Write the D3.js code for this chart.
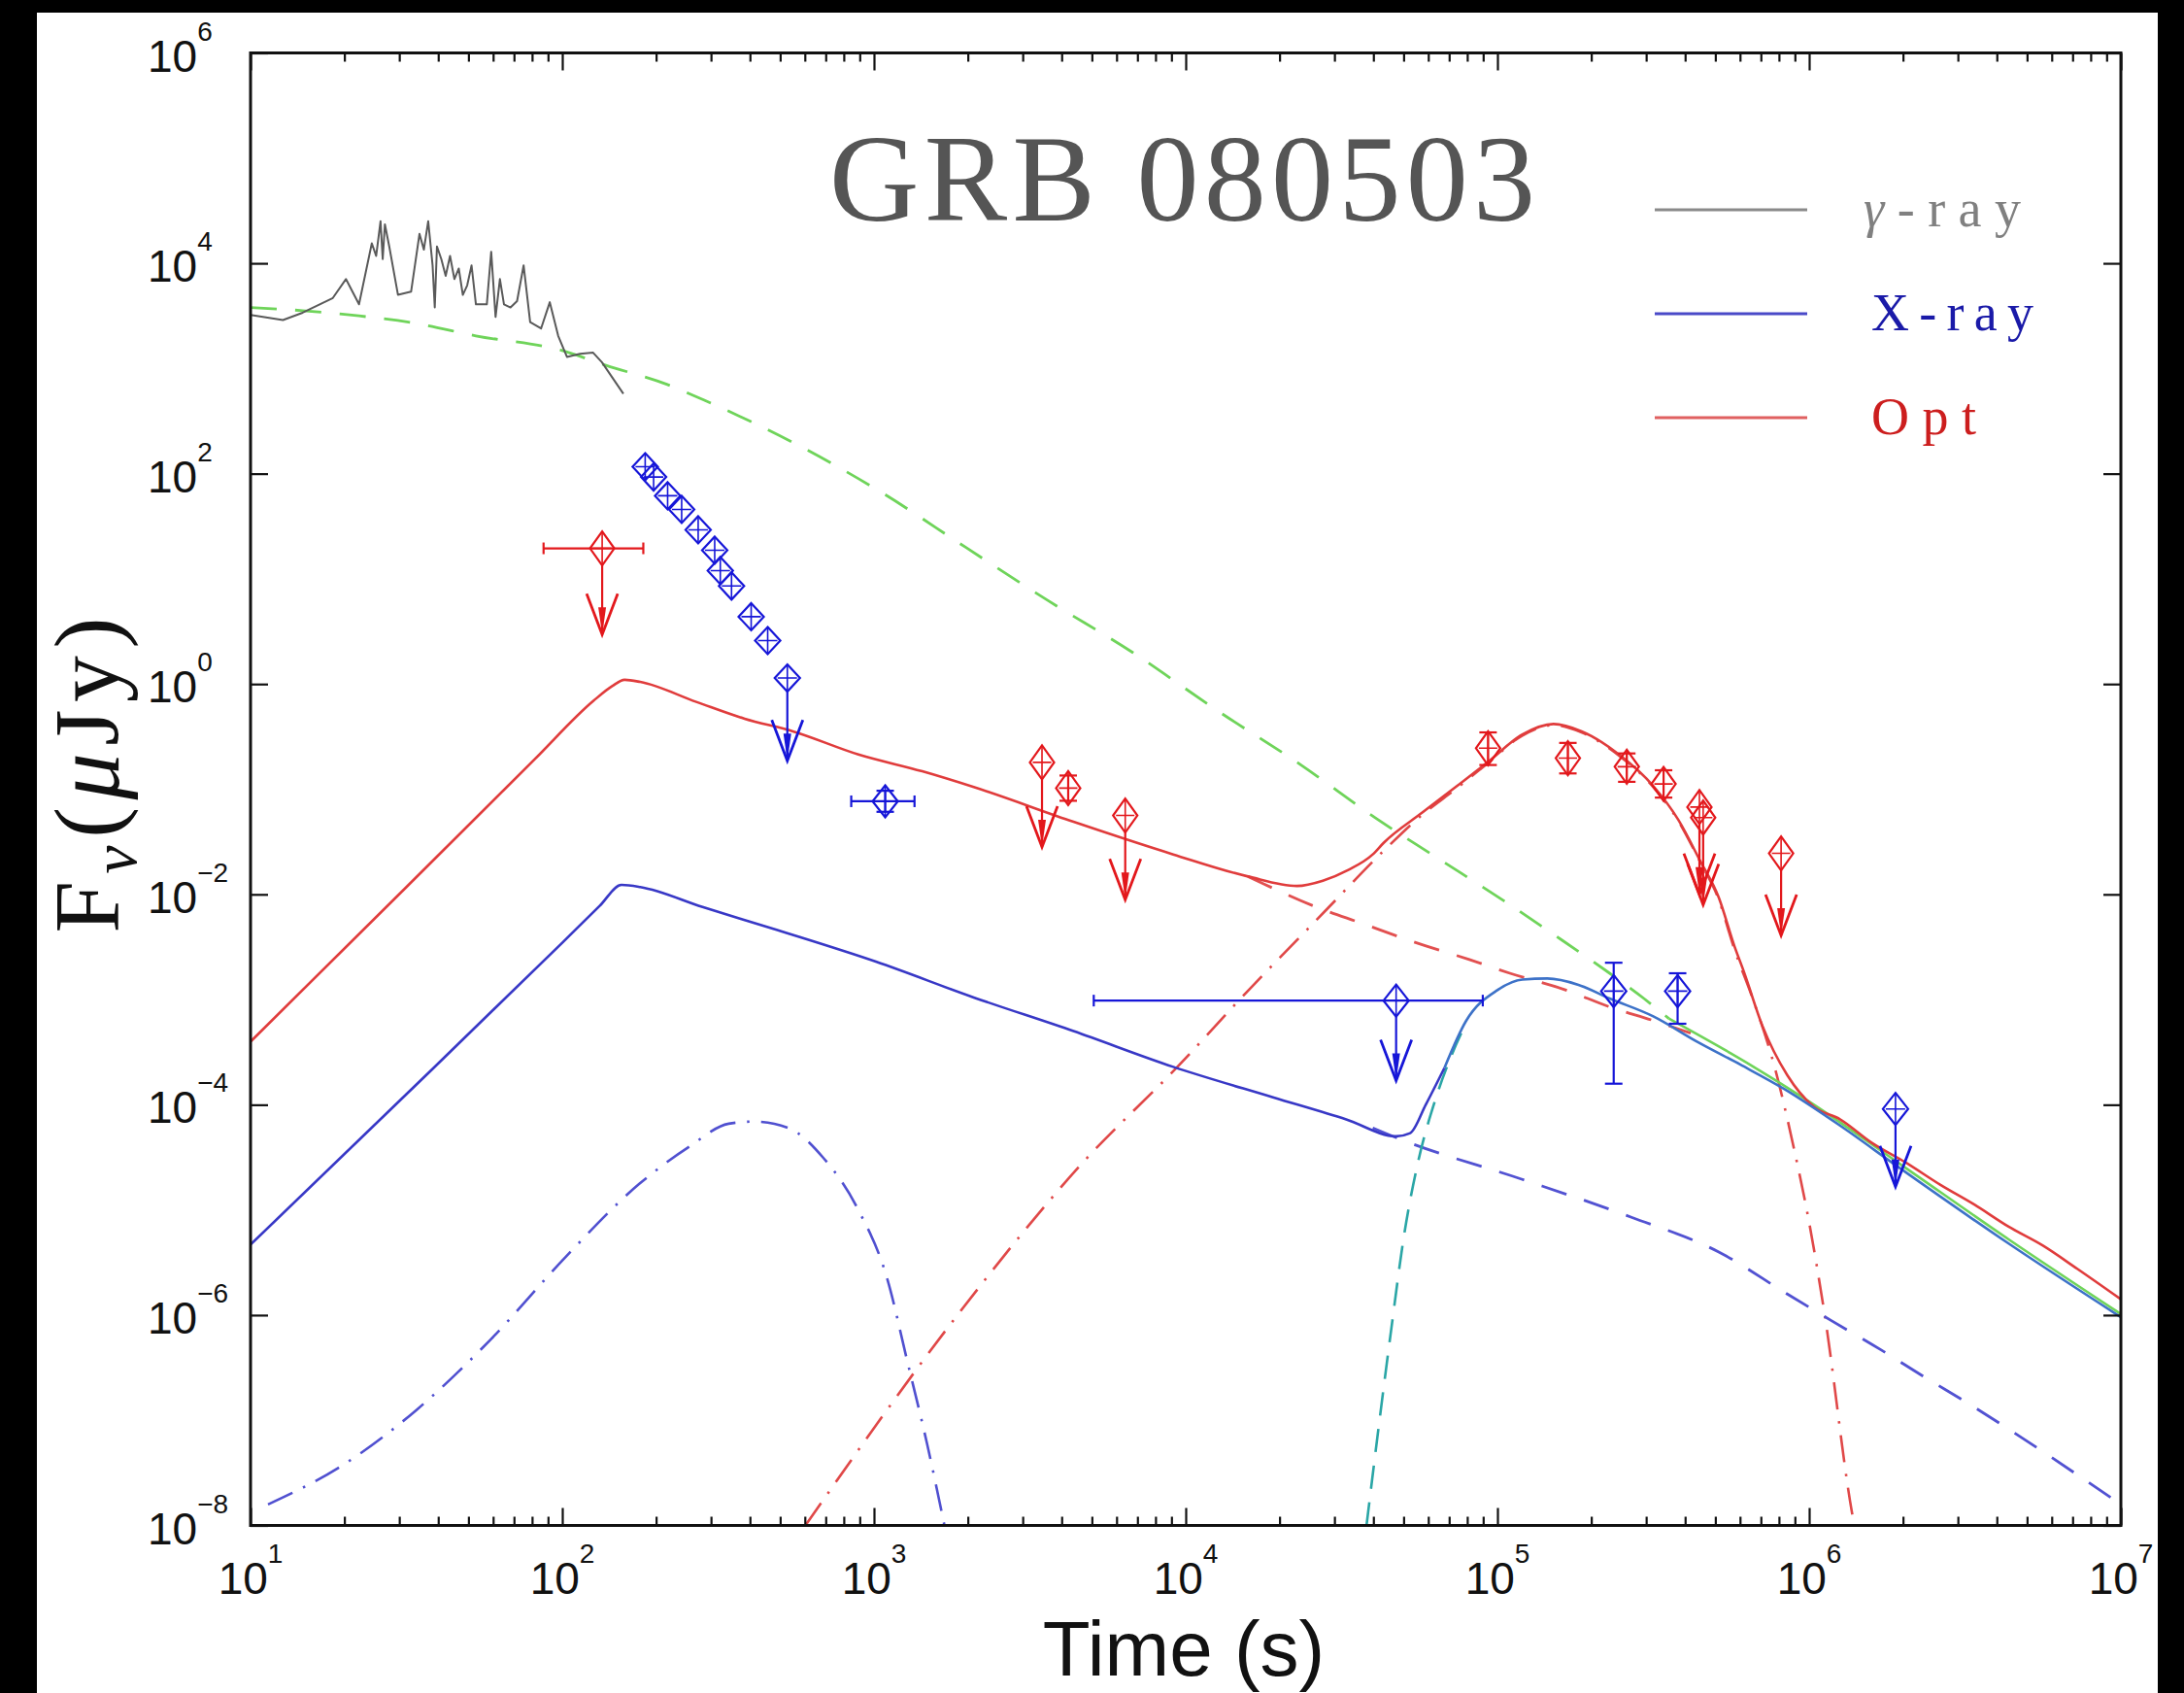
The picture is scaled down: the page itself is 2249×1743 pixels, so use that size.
<!DOCTYPE html>
<html><head><meta charset="utf-8">
<script src="https://cdn.jsdelivr.net/npm/d3@7"></script>
<style>html,body{margin:0;padding:0;background:#000;}svg{display:block}</style>
</head><body>
<svg id="chart" width="2249" height="1743"></svg>
<script>
// ---------- DATA (log10 time [s], log10 flux [μJy]) ----------
const gammaLogT = [1.0,1.104,1.167,1.264,1.306,1.348,1.389,1.403,1.417,1.424,1.431,1.445,1.473,1.515,1.542,1.556,1.570,1.584,1.591,1.598,1.612,1.626,1.640,1.654,1.668,1.681,1.695,1.709,1.723,1.737,1.758,1.772,1.786,1.800,1.813,1.834,1.855,1.876,1.897,1.932,1.960,1.987,2.015,2.057,2.099,2.127,2.196];
const gammaLogF = [3.51,3.46,3.53,3.67,3.85,3.61,4.19,4.07,4.40,4.04,4.37,4.16,3.70,3.73,4.28,4.13,4.40,3.98,3.58,4.16,4.04,3.88,4.07,3.85,3.95,3.70,3.79,3.98,3.61,3.61,3.61,4.11,3.49,3.85,3.61,3.58,3.64,3.98,3.44,3.38,3.63,3.31,3.11,3.14,3.15,3.06,2.76];

const greenLogT = [1.0,1.167,1.348,1.528,1.723,2.0,2.14,2.335,2.454,2.757,3.025,3.294,3.56,3.83,4.10,4.37,4.617,4.80,5.025,5.18,5.36,5.47,5.55,5.8,6.0,6.28,6.64,7.0];
const greenLogF = [3.58,3.55,3.50,3.43,3.31,3.17,3.03,2.85,2.70,2.27,1.82,1.30,0.79,0.30,-0.25,-0.77,-1.29,-1.64,-2.07,-2.38,-2.75,-2.99,-3.18,-3.60,-3.97,-4.54,-5.28,-5.99];

const optLogT = [1.0,1.5,1.91,2.10,2.16,2.20,2.25,2.43,2.585,2.74,2.95,3.155,3.32,3.64,3.96,4.20,4.357,4.44,4.52,4.60,4.635,4.76,4.87,4.97,5.08,5.18,5.27,5.39,5.50,5.58,5.65,5.71,5.76,5.79,5.85,5.93,6.015,6.10,6.20,6.31,6.42,6.53,6.64,6.75,6.86,7.0];
const optLogF = [-3.40,-1.93,-0.72,-0.16,-0.02,0.04,0.02,-0.17,-0.33,-0.45,-0.67,-0.83,-0.98,-1.31,-1.62,-1.83,-1.92,-1.87,-1.77,-1.62,-1.51,-1.22,-0.97,-0.74,-0.48,-0.38,-0.45,-0.67,-0.97,-1.29,-1.68,-2.03,-2.49,-2.73,-3.25,-3.72,-4.02,-4.14,-4.36,-4.55,-4.76,-4.95,-5.16,-5.34,-5.56,-5.85];

const optFsLogT = [4.20,4.25,4.41,4.57,4.73,4.91,5.04,5.22,5.36,5.50,5.62];
const optFsLogF = [-1.83,-1.90,-2.11,-2.28,-2.45,-2.62,-2.75,-2.91,-3.07,-3.20,-3.32];

const optRsLogT = [2.78,3.273,3.67,3.98,4.17,4.45,4.63,4.76,4.87,4.97,5.08,5.18,5.27,5.39,5.50,5.58,5.65,5.71,5.76,5.82,5.89,5.95,6.0,6.05,6.137,6.145];
const optRsLogF = [-8.0,-5.98,-4.55,-3.62,-3.01,-2.15,-1.60,-1.24,-0.99,-0.75,-0.49,-0.39,-0.46,-0.68,-0.98,-1.30,-1.69,-2.05,-2.52,-3.0,-3.65,-4.4,-5.12,-6.0,-7.87,-8.0];

const xrayLogT = [1.0,1.5,2.0,2.12,2.19,2.25,2.45,2.69,3.006,3.32,3.64,3.96,4.28,4.515,4.675,4.72,4.77,4.83,4.90,5.0,5.08,5.16,5.26,5.36,5.50,5.64,5.78,5.92,6.1,6.28,6.64,7.0];
const xrayLogF = [-5.33,-3.90,-2.46,-2.11,-1.91,-1.93,-2.12,-2.34,-2.64,-2.98,-3.30,-3.64,-3.93,-4.14,-4.30,-4.27,-4.00,-3.65,-3.20,-2.91,-2.81,-2.80,-2.86,-2.99,-3.16,-3.40,-3.62,-3.85,-4.20,-4.58,-5.32,-6.02];

const xrayFsLogT = [4.60,4.69,5.08,5.43,5.71,5.93,6.07,6.23,6.365,6.51,7.0];
const xrayFsLogF = [-4.22,-4.33,-4.71,-5.07,-5.40,-5.80,-6.05,-6.33,-6.58,-6.84,-7.80];

const xrayRsLogT = [1.056,1.294,1.533,1.771,2.01,2.248,2.407,2.534,2.614,2.725,2.836,2.948,3.043,3.107,3.17,3.226];
const xrayRsLogF = [-7.80,-7.43,-6.90,-6.23,-5.45,-4.75,-4.40,-4.18,-4.16,-4.22,-4.50,-4.99,-5.66,-6.44,-7.22,-8.0];

const cyanLogT = [4.58,4.62,4.66,4.70,4.745,4.80,4.85,4.90];
const cyanLogF = [-8.0,-7.04,-6.12,-5.25,-4.55,-3.96,-3.55,-3.22];

// optical observations
const redLogT  = [2.128,3.539,3.623,3.806,4.97,5.226,5.415,5.533,5.648,5.66,5.91];
const redLogF  = [1.29,-0.745,-0.99,-1.25,-0.61,-0.705,-0.786,-0.95,-1.17,-1.27,-1.61];
const redErrLo = [null,null,-1.11,null,-0.77,-0.85,-0.93,-1.08,null,null,null];
const redErrHi = [null,null,-0.87,null,-0.46,-0.56,-0.66,-0.82,null,null,null];
const redTLo   = [1.94,null,null,null,null,null,null,null,null,null,null];
const redTHi   = [2.26,null,null,null,null,null,null,null,null,null,null];
const redLimit = [0.47,-1.55,null,-2.05,null,null,null,null,-2.0,-2.1,-2.39];

// X-ray observations
const blueLogT  = [2.266,2.293,2.338,2.383,2.436,2.489,2.507,2.543,2.606,2.659,2.722,3.036,4.675,5.373,5.578,6.277];
const blueLogF  = [2.066,1.968,1.790,1.660,1.466,1.272,1.078,0.932,0.640,0.413,0.057,-1.115,-3.01,-2.92,-2.92,-4.04];
const blueErrLo = [null,null,null,null,null,null,null,null,null,null,null,-1.215,null,-3.80,-3.23,null];
const blueErrHi = [null,null,null,null,null,null,null,null,null,null,null,-1.015,null,-2.65,-2.75,null];
const blueTLo   = [null,null,null,null,null,null,null,null,null,null,null,2.927,3.705,null,null,null];
const blueTHi   = [null,null,null,null,null,null,null,null,null,null,null,3.13,4.953,null,null,null];
const blueLimit = [null,null,null,null,null,null,null,null,null,null,-0.73,null,-3.77,null,null,-4.78];

const xTickExp = [1,2,3,4,5,6,7];
const yTickExp = [-8,-6,-4,-2,0,2,4,6];
const legendLabels = ["γ-ray","X-ray","Opt"];
const titleText = "GRB 080503";

// ---------- CHART ----------
const svg = d3.select("#chart");
const plot = {left:258, right:2184, top:54.5, bottom:1570.5};
const P = v => Math.pow(10, v);
const x = d3.scaleLog().domain([1e1,1e7]).range([plot.left, plot.right]);
const y = d3.scaleLog().domain([1e-8,1e6]).range([plot.bottom, plot.top]);
const X = lt => x(P(lt)), Y = lf => y(P(lf));

svg.append("rect").attr("width",2249).attr("height",1743).attr("fill","#000");
svg.append("rect").attr("x",38).attr("y",13).attr("width",2184).attr("height",1730).attr("fill","#fff");

svg.append("defs").append("clipPath").attr("id","clip").append("rect")
  .attr("x",plot.left).attr("y",plot.top).attr("width",plot.right-plot.left).attr("height",plot.bottom-plot.top);

const lines = svg.append("g").attr("clip-path","url(#clip)").attr("fill","none").attr("stroke-linejoin","round");
const smooth = d3.line().x(d=>X(d[0])).y(d=>Y(d[1])).curve(d3.curveMonotoneX);
const straight = d3.line().x(d=>X(d[0])).y(d=>Y(d[1]));
function draw(ts, fs, gen, color, width, dash, filter){
  let pts = d3.zip(ts, fs);
  if (filter) pts = pts.filter(filter);
  const p = lines.append("path").attr("d", gen(pts)).attr("stroke", color).attr("stroke-width", width);
  if (dash) p.attr("stroke-dasharray", dash);
  return p;
}
const dashDot = "28,12,2.5,12";
// dashed/dash-dot components
draw(xrayRsLogT, xrayRsLogF, smooth, "#5050d0", 2.6, dashDot);
draw(optRsLogT, optRsLogF, smooth, "#e04848", 2.6, dashDot);
draw(xrayFsLogT, xrayFsLogF, smooth, "#5252d2", 2.8, "27,19");
draw(optFsLogT, optFsLogF, smooth, "#e25050", 2.8, "27,19");
draw(cyanLogT, cyanLogF, smooth, "#2aa6a6", 2.6, "24,14");
draw(greenLogT, greenLogF, smooth, "#6fd45a", 2.8, "27,19", d=>d[0]<=5.56);
draw(greenLogT, greenLogF, smooth, "#6fd45a", 2.6, null, d=>d[0]>=5.55);
// solid models
draw(optLogT, optLogF, smooth, "#e03c3c", 2.6, null);
draw(xrayLogT, xrayLogF, smooth, "#3838c6", 2.6, null, d=>d[0]<=4.83);
draw(xrayLogT, xrayLogF, smooth, "#3d72c8", 2.6, null, d=>d[0]>=4.83);
// gamma-ray light curve
draw(gammaLogT, gammaLogF, straight, "#5a5a5a", 2, null);

// ---------- observations ----------
const obs = svg.append("g").attr("fill","none");
function drawPoints(ts, fs, eLo, eHi, tLo, tHi, lim, color, sizeFn){
  ts.forEach((t,i)=>{
    const g = obs.append("g").attr("stroke", color).attr("stroke-width", 2.2);
    const cx = X(t), cy = Y(fs[i]);
    const [w,h] = sizeFn(i);
    if (tLo[i]!==null){
      g.append("line").attr("x1",X(tLo[i])).attr("x2",X(tHi[i])).attr("y1",cy).attr("y2",cy);
      [tLo[i],tHi[i]].forEach(v=>g.append("line").attr("x1",X(v)).attr("x2",X(v)).attr("y1",cy-6).attr("y2",cy+6));
    }
    if (eLo[i]!==null){
      g.append("line").attr("x1",cx).attr("x2",cx).attr("y1",Y(eLo[i])).attr("y2",Y(eHi[i]));
      [eLo[i],eHi[i]].forEach(v=>g.append("line").attr("x1",cx-9).attr("x2",cx+9).attr("y1",Y(v)).attr("y2",Y(v)));
    }
    g.append("path").attr("d",`M${cx},${cy-h/2}L${cx+w/2},${cy}L${cx},${cy+h/2}L${cx-w/2},${cy}Z`);
    g.append("path").attr("stroke-width",1.6).attr("d",`M${cx},${cy-h/2}V${cy+h/2}M${cx-w/2+3},${cy}H${cx+w/2-3}`);
    if (lim[i]!==null){
      const tip = Y(lim[i]);
      g.append("line").attr("x1",cx).attr("x2",cx).attr("y1",cy+h/2).attr("y2",tip);
      g.append("path").attr("stroke-width",2.8).attr("d",`M${cx-16},${tip-42}L${cx},${tip}L${cx+16},${tip-42}`);
      g.append("path").attr("fill",color).attr("stroke","none").attr("d",`M${cx-4},${tip-28}L${cx},${tip}L${cx+4},${tip-28}Z`);
    }
  });
}
drawPoints(redLogT, redLogF, redErrLo, redErrHi, redTLo, redTHi, redLimit, "#e3181c", ()=>[25,35]);
drawPoints(blueLogT, blueLogF, blueErrLo, blueErrHi, blueTLo, blueTHi, blueLimit, "#1616d8", i=> i<11 ? [26,28] : [26,33]);

// ---------- axes ----------
const xMajor = xTickExp.map(P);
const xMinor = [];
for (let e=1;e<7;e++) for (let m=2;m<=9;m++) xMinor.push(m*P(e));
const yMajor = yTickExp.map(P);
function clean(g){ g.select(".domain").remove(); g.selectAll(".tick text").remove(); g.selectAll(".tick line").attr("stroke","#111").attr("stroke-width",2.2); }
const ax = svg.append("g");
ax.append("g").attr("transform",`translate(0,${plot.bottom})`).call(d3.axisBottom(x).tickValues(xMajor).tickSize(-18).tickSizeOuter(0)).call(clean);
ax.append("g").attr("transform",`translate(0,${plot.bottom})`).call(d3.axisBottom(x).tickValues(xMinor).tickSize(-9).tickSizeOuter(0)).call(clean);
ax.append("g").attr("transform",`translate(0,${plot.top})`).call(d3.axisTop(x).tickValues(xMajor).tickSize(-18).tickSizeOuter(0)).call(clean);
ax.append("g").attr("transform",`translate(0,${plot.top})`).call(d3.axisTop(x).tickValues(xMinor).tickSize(-9).tickSizeOuter(0)).call(clean);
ax.append("g").attr("transform",`translate(${plot.left},0)`).call(d3.axisLeft(y).tickValues(yMajor).tickSize(-18).tickSizeOuter(0)).call(clean);
ax.append("g").attr("transform",`translate(${plot.right},0)`).call(d3.axisRight(y).tickValues(yMajor).tickSize(-18).tickSizeOuter(0)).call(clean);
svg.append("rect").attr("x",plot.left).attr("y",plot.top).attr("width",plot.right-plot.left).attr("height",plot.bottom-plot.top)
  .attr("fill","none").attr("stroke","#111").attr("stroke-width",3);

const fmtExp = e => (e<0 ? "\u2212"+Math.abs(e) : ""+e);
const labF = "'Liberation Sans', Arial, Helvetica, sans-serif";
xTickExp.forEach(e=>{
  const t = svg.append("text").attr("x",X(e)).attr("y",1641).attr("text-anchor","middle")
    .attr("font-family",labF).attr("font-size",46).attr("fill","#111");
  t.append("tspan").text("10");
  t.append("tspan").attr("dy",-32).attr("font-size",28).text(fmtExp(e));
});
yTickExp.forEach(e=>{
  const t = svg.append("text").attr("x",152).attr("y",Y(e)+19).attr("text-anchor","start")
    .attr("font-family",labF).attr("font-size",46).attr("fill","#111");
  t.append("tspan").text("10");
  t.append("tspan").attr("dy",-32).attr("font-size",28).text(fmtExp(e));
});

svg.append("text").attr("x",1219).attr("y",1725).attr("text-anchor","middle")
  .attr("font-family",labF).attr("font-size",80).attr("fill","#111").text("Time (s)");

const serif = "'Liberation Serif', 'Times New Roman', serif";
const yt = svg.append("text").attr("transform","translate(122,798) rotate(-90)").attr("text-anchor","middle")
  .attr("font-family",serif).attr("font-size",96).attr("fill","#111")
  .attr("textLength",325).attr("lengthAdjust","spacing");
yt.append("tspan").text("F");
yt.append("tspan").attr("font-style","italic").attr("font-size",66).attr("dy",18).text("ν");
yt.append("tspan").attr("dy",-18).text("(");
yt.append("tspan").attr("font-style","italic").text("μ");
yt.append("tspan").text("Jy)");

// title
svg.append("text").attr("x",854).attr("y",227).attr("font-family",serif).attr("font-size",128)
  .attr("fill","#555").attr("textLength",727).attr("lengthAdjust","spacing")
  .style("font-variant-numeric","oldstyle-nums").text(titleText);

// legend
const legendLine = ["#8a8a8a","#4a4ac8","#e06060"];
const legendText = ["#808080","#1a1aa8","#cc1e1e"];
const legendY = [216,323,430];
const legendLen = [162,167,108];
legendLabels.forEach((lab,i)=>{
  svg.append("line").attr("x1",1704).attr("x2",1861).attr("y1",legendY[i]).attr("y2",legendY[i])
    .attr("stroke",legendLine[i]).attr("stroke-width",3);
  const t = svg.append("text").attr("x", i===0?1919:1927).attr("y",legendY[i]+17).attr("font-family",serif).attr("font-size",54)
    .attr("fill",legendText[i]).attr("textLength",legendLen[i]).attr("lengthAdjust","spacing");
  if (i===0){
    t.append("tspan").attr("font-style","italic").text(lab.slice(0,1));
    t.append("tspan").text(lab.slice(1));
  } else t.text(lab);
});
</script>
</body></html>
